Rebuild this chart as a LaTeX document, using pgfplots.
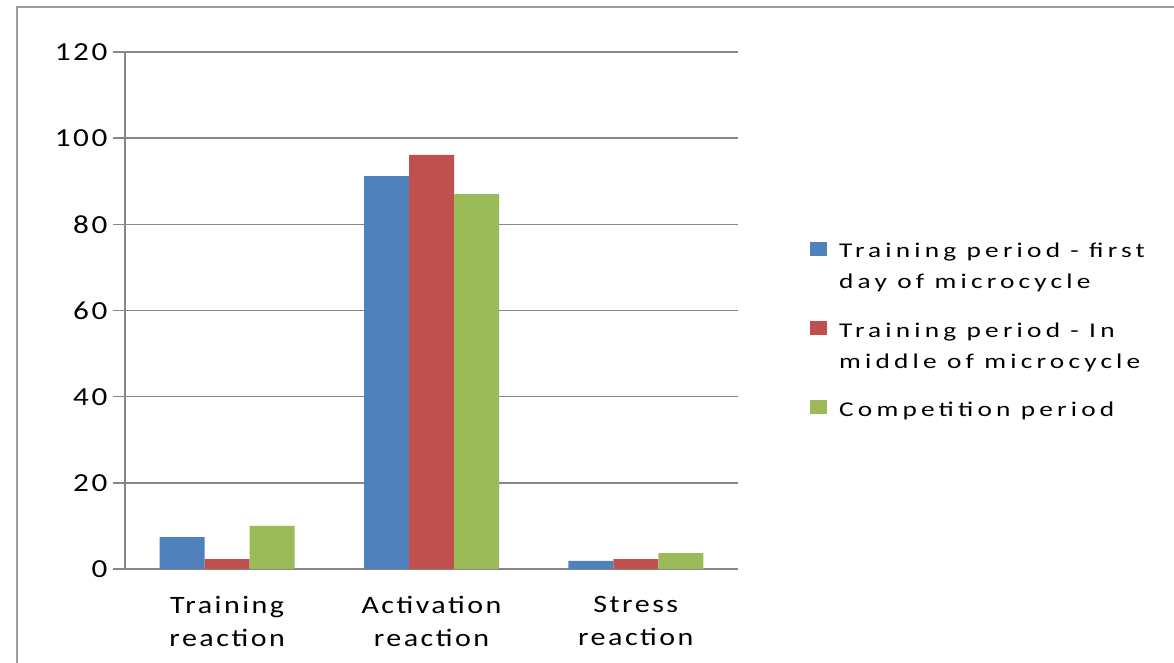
\documentclass[border=0pt]{standalone}
\usepackage{fontspec}
\setmainfont{Carlito}
\newfontfamily\spaced[FakeStretch=1.2,LetterSpace=10]{Carlito}
\newfontfamily\legfont[FakeStretch=1.3,LetterSpace=20]{Carlito}
\usepackage{pgfplots}
\pgfplotsset{compat=1.18}
\definecolor{cblue}{HTML}{4F81BD}
\definecolor{cred}{HTML}{C0504D}
\definecolor{cgreen}{HTML}{9BBB59}
\definecolor{gridc}{HTML}{868686}
\newcommand{\two}[2]{\begin{tabular}[b]{@{}l@{}}#1\\#2\end{tabular}}
\newcommand{\one}[1]{\begin{tabular}[b]{@{}l@{}}#1\end{tabular}}
\begin{document}
\begin{tikzpicture}[x=1pt,y=1pt]
\useasboundingbox (0,0) rectangle (1174,663);
\draw[gridc!80, line width=2pt] (17,-5) -- (17,656) -- (1180,656);
\begin{axis}[
  at={(125pt,94pt)}, anchor=south west,
  scale only axis, width=613pt, height=517pt,
  ymin=0, ymax=120, ytick distance=20,
  xmin=-0.5, xmax=2.5,
  ybar=0pt, bar width=45pt,
  axis x line*=bottom, axis y line*=left,
  axis line style={gridc, line width=1.6pt, -},
  ymajorgrids, grid style={gridc, line width=1.4pt},
  tick align=outside, major tick length=12pt,
  tick style={gridc, line width=1.4pt},
  xtick={0,1,2}, xticklabels={Training\\reaction, Activation\\reaction, Stress\\reaction},
  x tick style={draw=none},
  extra x ticks={-0.5,0.5,1.5,2.5}, extra x tick labels={},
  extra x tick style={grid=none, major tick length=9pt, tick style={gridc, line width=1.4pt}},
  xticklabel style={align=center, font=\spaced\fontsize{25}{33}\selectfont, yshift=-12pt},
  yticklabel style={font=\spaced\fontsize{26}{30}\selectfont, xshift=-2pt},
  /pgf/number format/assume math mode=true,
  legend style={draw=none, at={(1.1175,0.644)}, anchor=north west, inner sep=0pt,
    font=\legfont\fontsize{21}{31}\selectfont, row sep=25pt,
    nodes={inner sep=0pt}, legend cell align=left,
    /tikz/every odd column/.style={column sep=12pt}},
]
\addplot[fill=cblue, draw=none, legend image code/.code={\fill[cblue] (0pt,7.5pt) rectangle (17pt,21.5pt);}] coordinates {(0,7.4) (1,91.2) (2,1.9)};
\addplot[fill=cred, draw=none, legend image code/.code={\fill[cred] (0pt,7.5pt) rectangle (17pt,21.5pt);}] coordinates {(0,2.3) (1,96.1) (2,2.3)};
\addplot[fill=cgreen, draw=none, legend image code/.code={\fill[cgreen] (0pt,-8pt) rectangle (17pt,6pt);}] coordinates {(0,10.0) (1,87.0) (2,3.7)};
\legend{{\two{Training period - first}{day of microcycle}}, {\two{Training period - In}{middle of microcycle}}, {\one{Competition period}}}
\end{axis}
\end{tikzpicture}
\end{document}
